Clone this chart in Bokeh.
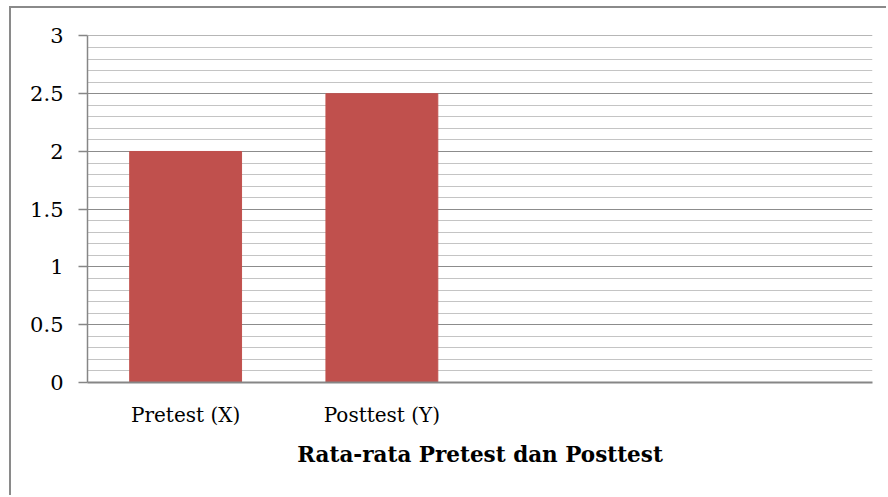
from bokeh.plotting import figure
from bokeh.models import FactorRange, Range1d, SingleIntervalTicker, ColumnDataSource
from bokeh.embed import file_html
from bokeh.resources import INLINE

# Data
categories = ["Pretest (X)", "Posttest (Y)", "", " "]
bar_categories = ["Pretest (X)", "Posttest (Y)"]
bar_values = [2.0, 2.5]
axis_title = "Rata-rata Pretest dan Posttest"

FONT = "DejaVu Serif"

src = ColumnDataSource(data=dict(x=bar_categories, top=bar_values))

p = figure(
    x_range=FactorRange(factors=categories, range_padding=0),
    y_range=Range1d(0, 3.004),
    width=877, height=489,
    output_backend="svg", toolbar_location=None,
    min_border_left=76, min_border_top=27, min_border_right=16, min_border_bottom=115,
)
p.styles = {
    "margin-left": "9px", "margin-top": "6px",
    "border-left": "2px solid #8a8a8a", "border-top": "2px solid #8a8a8a",
}
p.outline_line_color = None

p.vbar(x="x", top="top", width=0.57, source=src, fill_color="#c0504d", line_color="#c0504d")

# Y axis
p.yaxis.ticker = SingleIntervalTicker(interval=0.5, num_minor_ticks=5)
p.yaxis.axis_line_color = "#868686"
p.yaxis.axis_line_width = 1.5
p.yaxis.major_tick_line_color = "#868686"
p.yaxis.major_tick_line_width = 1.5
p.yaxis.major_tick_out = 9
p.yaxis.major_tick_in = 0
p.yaxis.minor_tick_line_color = None
p.yaxis.major_label_standoff = 15
p.yaxis.major_label_text_font = FONT
p.yaxis.major_label_text_font_size = "21px"
p.yaxis.major_label_text_color = "black"

# X axis
p.xaxis.axis_line_color = "#868686"
p.xaxis.axis_line_width = 2
p.xaxis.major_tick_line_color = None
p.xaxis.minor_tick_line_color = None
p.xaxis.major_label_standoff = 14
p.xaxis.major_label_text_font = FONT
p.xaxis.major_label_text_font_size = "20px"
p.xaxis.major_label_text_color = "black"
p.xaxis.axis_label = axis_title
p.xaxis.axis_label_text_font = FONT
p.xaxis.axis_label_text_font_size = "21.5px"
p.xaxis.axis_label_text_font_style = "bold"
p.xaxis.axis_label_text_color = "black"
p.xaxis.axis_label_standoff = 12

# Grid
p.xgrid.grid_line_color = None
p.ygrid.grid_line_color = "#8c8c8c"
p.ygrid.grid_line_width = 1.2
p.ygrid.minor_grid_line_color = "#c4c4c4"
p.ygrid.minor_grid_line_width = 1.2

open("out.html", "w").write(file_html(p, INLINE))
